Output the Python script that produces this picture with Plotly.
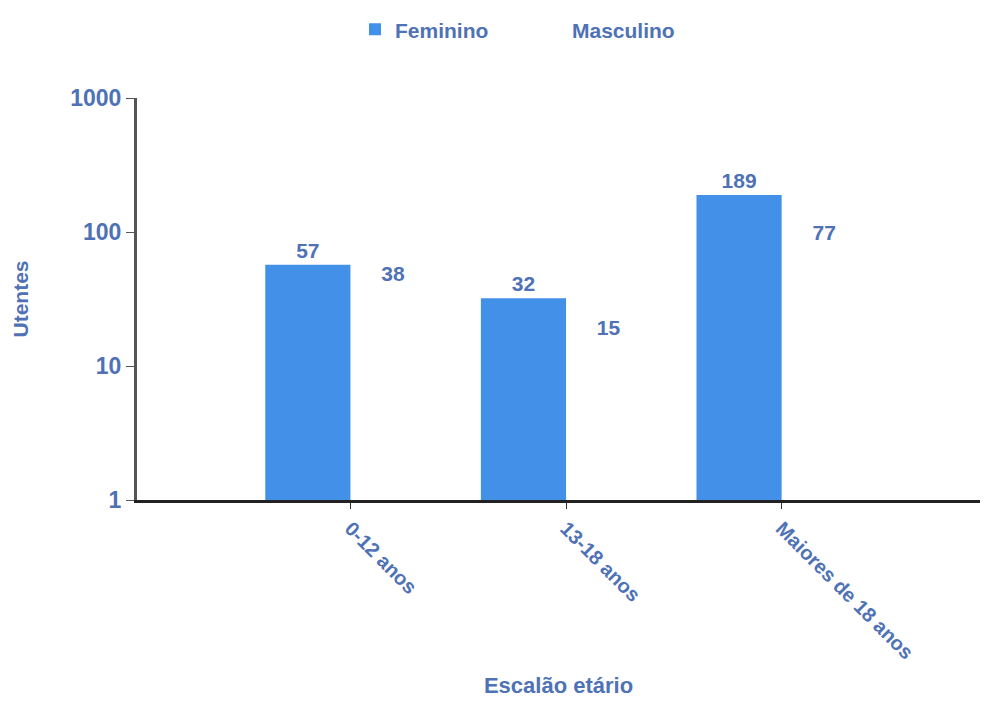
import plotly.graph_objects as go

categories = ["0-12 anos", "13-18 anos", "Maiores de 18 anos"]
feminino = [57, 32, 189]
masculino = [38, 15, 77]
y_ticks = [1, 10, 100, 1000]
y_tick_labels = ["1", "10", "100", "1000"]

txt_color = "#4e72b5"
fam = "Liberation Sans, Arial, sans-serif"
def f(size=20):
    return dict(family=fam, size=size, color=txt_color, weight="bold")

fig = go.Figure()
fig.add_trace(go.Bar(
    name="Feminino", x=categories, y=feminino,
    marker=dict(color="#4390e8", line=dict(width=0)),
    text=[str(v) for v in feminino], textposition="outside",
    textfont=f(21), cliponaxis=False,
))
fig.add_trace(go.Bar(
    name="Masculino", x=categories, y=masculino,
    marker=dict(color="rgba(255,255,255,0)", line=dict(width=0)),
    text=[str(v) for v in masculino], textposition="outside",
    textfont=f(21), cliponaxis=False,
))

fig.update_layout(
    width=978, height=690,
    margin=dict(l=129, r=6, t=90, b=198, autoexpand=False),
    paper_bgcolor="white", plot_bgcolor="white",
    font=f(21),
    barmode="group", bargap=0.21, bargroupgap=0,
    showlegend=True,
    legend=dict(orientation="h", x=0.2586, xanchor="left", y=1.17, yanchor="middle",
                font=f(21), entrywidth=132, entrywidthmode="pixels",
                traceorder="normal"),
    xaxis=dict(
        title=dict(text="Escalão etário", font=f(22), standoff=44),
        tickangle=45, range=[-0.99, 2.92],
        showline=True, linecolor="#222", linewidth=3,
        ticks="outside", ticklen=6, tickcolor="#333",
        showgrid=False, tickfont=f(20), automargin=False,
    ),
    yaxis=dict(
        title=dict(text="Utentes", font=f(21), standoff=36),
        type="log", range=[0, 3],
        tickvals=y_ticks, ticktext=y_tick_labels,
        showline=True, linecolor="#555", linewidth=3,
        ticks="outside", ticklen=8, tickcolor="#555",
        showgrid=False, zeroline=False,
        tickfont=f(23), automargin=False,
    ),
)

fig.write_html("out.html")
